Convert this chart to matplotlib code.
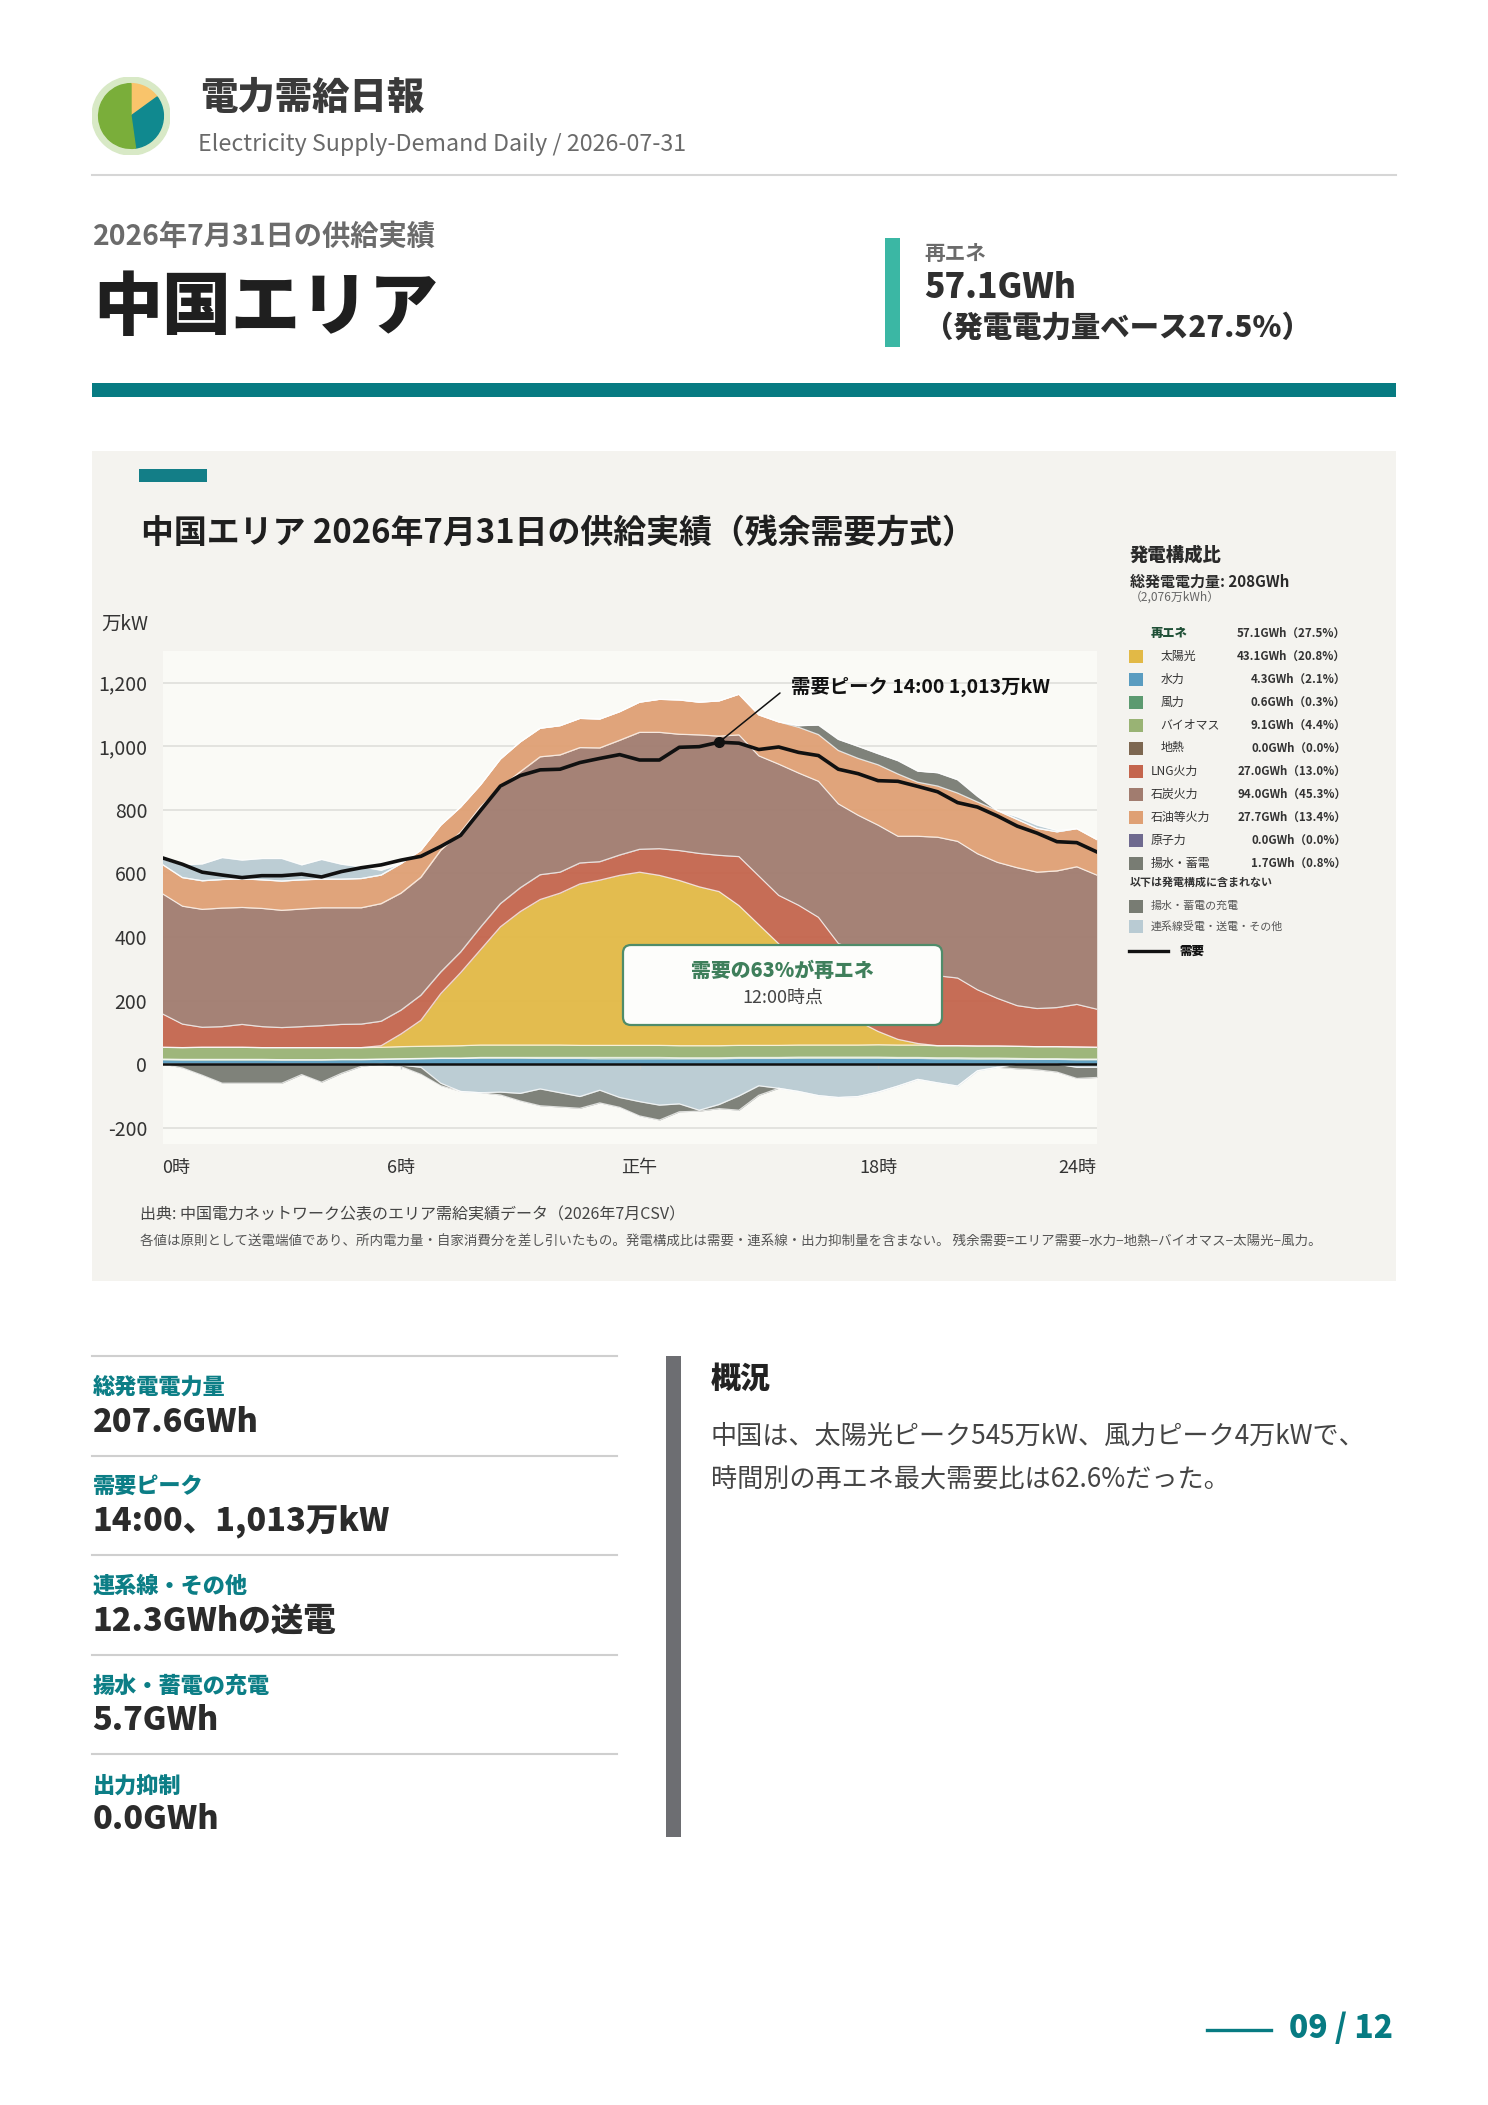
import numpy as np
import matplotlib
matplotlib.use('Agg')
import matplotlib.pyplot as plt
from matplotlib.patches import Rectangle, FancyBboxPatch, Wedge, Circle
from matplotlib.ticker import FuncFormatter

plt.rcParams['font.family'] = ['Noto Sans CJK JP', 'DejaVu Sans']

W, H = 1488, 2105

# ---------------- data (万kW, 30-minute slots) ----------------
times = [f"{h:02d}:{m:02d}" for h in range(24) for m in (0, 30)]

demand = [649, 629, 604, 595, 587, 593, 593, 598, 589, 606, 618, 627,
          642, 654, 685, 720, 798, 875, 908, 926, 928, 949, 962, 974,
          957, 957, 997, 999, 1013, 1010, 990, 998, 981, 971, 928, 914,
          892, 890, 874, 857, 823, 809, 781, 749, 727, 700, 697, 668]
hydro = [14, 13, 13, 13, 13, 13, 13, 13, 13, 14, 14, 15,
         16, 17, 18, 18, 19, 19, 19, 18, 18, 18, 17, 17,
         17, 17, 17, 17, 17, 18, 18, 18, 19, 19, 19, 19,
         19, 18, 18, 17, 17, 16, 16, 15, 15, 15, 14, 14]
wind = [2, 2, 2, 2, 2, 2, 1, 1, 1, 1, 1, 1,
        1, 1, 1, 1, 2, 2, 2, 3, 3, 3, 4, 4,
        4, 4, 3, 3, 3, 3, 3, 3, 3, 3, 3, 3,
        3, 3, 3, 3, 3, 3, 3, 3, 2, 2, 2, 2]
biomass = [37, 37, 38, 38, 38, 37, 38, 38, 38, 37, 37, 37,
           38, 38, 38, 39, 39, 39, 39, 39, 39, 38, 38, 38,
           38, 38, 38, 38, 38, 38, 38, 38, 38, 38, 38, 38,
           39, 39, 39, 38, 38, 38, 38, 38, 38, 38, 38, 37]
geothermal = [0] * 48
solar = [0, 0, 0, 0, 0, 0, 0, 0, 0, 0, 0, 5,
         40, 82, 165, 230, 300, 372, 420, 458, 478, 508, 520, 535,
         545, 535, 520, 500, 485, 440, 380, 320, 255, 185, 120, 75,
         42, 18, 5, 0, 0, 0, 0, 0, 0, 0, 0, 0]
lng = [105, 74, 63, 65, 72, 66, 63, 66, 69, 73, 74, 77,
       75, 79, 68, 65, 71, 73, 75, 78, 66, 66, 58, 64,
       72, 84, 94, 105, 114, 154, 153, 152, 185, 217, 200, 220,
       221, 222, 221, 220, 213, 177, 150, 128, 120, 123, 134, 120]
coal = [378, 371, 371, 373, 368, 372, 369, 370, 371, 367, 366, 370,
        368, 371, 383, 377, 379, 366, 365, 371, 369, 363, 358, 361,
        368, 366, 366, 373, 375, 383, 378, 413, 416, 428, 439, 428,
        428, 417, 431, 436, 430, 428, 428, 434, 429, 430, 433, 422]
oil = [92, 90, 90, 90, 90, 90, 92, 92, 90, 90, 92, 90,
       93, 85, 79, 79, 69, 89, 94, 90, 92, 92, 91, 90,
       95, 104, 108, 103, 111, 128, 129, 133, 144, 147, 168, 179,
       190, 196, 170, 161, 152, 163, 163, 152, 138, 123, 120, 112]
nuclear = [0] * 48
pumped_gen = [0, 0, 0, 0, 0, 0, 0, 0, 0, 0, 0, 0,
              0, 0, 0, 0, 0, 0, 0, 0, 0, 0, 0, 0,
              0, 0, 0, 0, 0, 0, 0, 0, 5, 30, 35, 38,
              35, 42, 35, 42, 42, 18, 0, 0, 0, 0, 0, 0]
interconnect = [17, 40, 53, 69, 59, 67, 71, 47, 62, 47, 37, 15,
                -3, -10, -60, -86, -90, -88, -92, -78, -90, -102, -82, -105,
                -118, -129, -125, -145, -127, -100, -68, -76, -86, -99, -105, -102,
                -88, -69, -48, -59, -69, -21, -10, 8, 10, 4, -10, -10]
pumped_charge = [0, -12, -35, -60, -60, -60, -60, -33, -57, -29, -7, 0,
                 -5, -22, -8, 0, 0, -9, -24, -53, -45, -37, -40, -31,
                 -45, -47, -25, -3, -13, -45, -30, 0, 0, 0, 0, 0,
                 0, 0, 0, 0, 0, 0, 0, -15, -18, -25, -35, -32]

xtick_pos = [0, 6, 12, 18, 23.5]
xtick_labels = ['0時', '6時', '正午', '18時', '24時']

legend_names = ['太陽光', '水力', '風力', 'バイオマス', '地熱',
                'LNG火力', '石炭火力', '石油等火力', '原子力', '揚水・蓄電']
legend_values = ['43.1GWh（20.8%）', '4.3GWh（2.1%）', '0.6GWh（0.3%）',
                 '9.1GWh（4.4%）', '0.0GWh（0.0%）', '27.0GWh（13.0%）',
                 '94.0GWh（45.3%）', '27.7GWh（13.4%）', '0.0GWh（0.0%）',
                 '1.7GWh（0.8%）']
renew_total = '57.1GWh（27.5%）'

stat_labels = ['総発電電力量', '需要ピーク', '連系線・その他', '揚水・蓄電の充電', '出力抑制']
stat_values = ['207.6GWh', '14:00、1,013万kW', '12.3GWhの送電', '5.7GWh', '0.0GWh']

summary_lines = ['中国は、太陽光ピーク545万kW、風力ピーク4万kWで、',
                 '時間別の再エネ最大需要比は62.6%だった。']

# ---------------- colours ----------------
C = {
    'solar': '#e2b946', 'hydro': '#5a9cc0', 'wind': '#5c9a70', 'bio': '#99b374',
    'geo': '#7d6751', 'lng': '#c4654d', 'coal': '#a17c6f', 'oil': '#dfa074',
    'nuc': '#6f6a8f', 'pump': '#787c73', 'tie': '#b9cbd3',
}
TEAL = '#077b82'
HEAVY = 900

fig = plt.figure(figsize=(W / 100, H / 100), dpi=100)
fig.patch.set_facecolor('white')

ov = fig.add_axes([0, 0, 1, 1], zorder=1)
ov.set_xlim(0, W); ov.set_ylim(H, 0); ov.axis('off')
ov2 = fig.add_axes([0, 0, 1, 1], zorder=3)
ov2.set_xlim(0, W); ov2.set_ylim(H, 0); ov2.axis('off')
ov2.patch.set_alpha(0)

fits = []


def T(axx, x, y, s, target=None, size=12, **kw):
    kw.setdefault('va', 'center')
    t = axx.text(x, y, s, fontsize=size, **kw)
    if target:
        fits.append((t, target))
    return t


# ---------------- header ----------------
axl = fig.add_axes([92 / W, 1 - 155 / H, 78 / W, 78 / H], zorder=2)
axl.set_xlim(-1, 1); axl.set_ylim(-1, 1); axl.axis('off')
axl.add_patch(Circle((0, 0), 1.0, color='#d8e9c6'))
axl.add_patch(Wedge((0, 0), 0.83, 36, 90, color='#f9c46b'))
axl.add_patch(Wedge((0, 0), 0.83, -82, 36, color='#10898f'))
axl.add_patch(Wedge((0, 0), 0.83, 90, 278, color='#7aae3a'))

T(ov, 200, 98, '電力需給日報', 224, 26, fontweight=HEAVY, color='#3a3a3a')
T(ov, 198, 145, 'Electricity Supply-Demand Daily / 2026-07-31', 488, 16, color='#6a6a6a')
ov.plot([92, 1396], [175, 175], color='#d6d6d6', lw=1.5)

T(ov, 93, 237, '2026年7月31日の供給実績', 343, 17, fontweight='bold', color='#6b6b6b')
T(ov, 93, 308, '中国エリア', 345, 48, fontweight=HEAVY, color='#1f1f1f')
ov.add_patch(Rectangle((92, 383), 1304, 14, color=TEAL, lw=0))

ov.add_patch(Rectangle((885, 238), 15, 109, color='#3bb7a4', lw=0))
T(ov, 924, 254, '再エネ', 62, 14, fontweight='bold', color='#6b6b6b')
T(ov, 924, 288, '57.1GWh', 152, 24, fontweight=HEAVY, color='#2f2f2f')
T(ov, 924, 328, '（発電電力量ベース27.5%）', 387, 19, fontweight=HEAVY, color='#2f2f2f')

# ---------------- chart panel ----------------
ov.add_patch(Rectangle((92, 451), 1304, 830, color='#f4f3ef', lw=0))
ov.add_patch(Rectangle((139, 469), 68, 13, color='#137e87', lw=0))
T(ov, 141, 533, '中国エリア 2026年7月31日の供給実績（残余需要方式）', 835, 22,
  fontweight='bold', color='#1f1f1f')
T(ov, 101.5, 624, '万kW', 47, 14, color='#333333')

ax = fig.add_axes([162.5 / W, 1 - 1143.6 / H, (1096.7 - 162.5) / W, (1143.6 - 651) / H], zorder=2)
ax.set_facecolor('#fafaf6')
x = np.arange(len(times)) * 0.5

pos_layers = [(hydro, C['hydro']), (wind, C['wind']), (biomass, C['bio']),
              (geothermal, C['geo']), (solar, C['solar']), (lng, C['lng']),
              (coal, C['coal']), (oil, C['oil']), (nuclear, C['nuc']),
              (pumped_gen, C['pump']), (np.maximum(interconnect, 0), C['tie'])]
base = np.zeros(len(x))
for vals, col in pos_layers:
    top = base + np.asarray(vals, float)
    ax.fill_between(x, base, top, color=col, alpha=0.95, lw=0, zorder=2)
    base = top
base = np.zeros(len(x))
for vals, col in pos_layers:
    top = base + np.asarray(vals, float)
    if np.any(np.asarray(vals) > 0):
        ax.plot(x, top, color='white', lw=0.9, alpha=0.75, zorder=2.2)
    base = top

neg_layers = [(np.minimum(interconnect, 0), C['tie']), (pumped_charge, C['pump'])]
nb = np.zeros(len(x))
for vals, col in neg_layers:
    bot = nb + np.asarray(vals, float)
    ax.fill_between(x, bot, nb, color=col, alpha=0.95, lw=0, zorder=2)
    ax.plot(x, bot, color='white', lw=0.9, alpha=0.75, zorder=2.2)
    nb = bot

ax.vlines([6, 12, 18], -16, 0, color='#c9cdcd', lw=1, zorder=3)
ax.axhline(0, color='#111111', lw=1.8, zorder=4)
ax.plot(x, demand, color='#111111', lw=2.6, zorder=5, solid_joinstyle='round')

ipk = int(np.argmax(demand))
ax.plot(x[ipk], demand[ipk], 'o', color='#111111', ms=7, zorder=6)
ax.annotate('', xy=(x[ipk], demand[ipk]), xytext=(780, H - 693), textcoords='figure pixels',
            arrowprops=dict(arrowstyle='-', color='#111111', lw=1.1, shrinkA=0, shrinkB=0),
            zorder=6)
T(ov2, 790.7, 686.5, f"需要ピーク {times[ipk]} {demand[ipk]:,}万kW", 259, 14,
  fontweight='bold', color='#111111')

ax.set_xlim(0, 23.5)
ax.set_ylim(-250, 1300)
ax.set_yticks(range(-200, 1201, 200))
ax.yaxis.set_major_formatter(FuncFormatter(lambda v, p: f"{int(v):,}"))
ax.grid(axis='y', color='#dcdcd8', lw=1.1, zorder=0)
ax.set_axisbelow(True)
for s in ax.spines.values():
    s.set_visible(False)
ax.set_xticks(xtick_pos)
ax.set_xticklabels(xtick_labels)
ax.tick_params(axis='y', length=0, pad=11, labelsize=14, labelcolor='#333333')
ax.tick_params(axis='x', length=0, pad=11, labelsize=13, labelcolor='#333333')
xl = ax.get_xticklabels()
xl[0].set_ha('left')
xl[-1].set_ha('right')

# annotation box
ov2.add_patch(FancyBboxPatch((623, 945), 319, 80, boxstyle='round,pad=0,rounding_size=8',
                             fc='#fdfdfb', ec='#4f8c6a', lw=1.6))
T(ov2, 782.5, 970.6, '需要の63%が再エネ', 183, 14, ha='center', fontweight=HEAVY, color='#3f7f5b')
T(ov2, 782.5, 998, '12:00時点', 81, 12, ha='center', color='#444444')

# legend
T(ov, 1130, 555, '発電構成比', 92, 13, fontweight=HEAVY, color='#2a2a2a')
T(ov, 1130, 581.5, '総発電電力量: 208GWh', 160, 10.5, fontweight='bold', color='#2a2a2a')
T(ov, 1130, 597, '（2,076万kWh）', 90, 7.5, color='#666666')
T(ov, 1150.7, 633, '再エネ', 37, 9, fontweight=HEAVY, color='#1f4f36')
T(ov, 1346, 633, renew_total, None, 8.3, ha='right', fontweight='bold', color='#333333')
leg_cols = [C['solar'], C['hydro'], C['wind'], C['bio'], C['geo'],
            C['lng'], C['coal'], C['oil'], C['nuc'], C['pump']]
for i, (nm, val, col) in enumerate(zip(legend_names, legend_values, leg_cols)):
    yy = 656 + 23 * i
    ov.add_patch(Rectangle((1129.3, yy - 6.5), 13.4, 13, color=col, lw=0))
    xx = 1160.7 if i < 5 else 1150.7
    T(ov, xx, yy, nm, None, 8.6, color='#333333')
    T(ov, 1346, yy, val, None, 8.3, ha='right', fontweight='bold', color='#333333')
T(ov, 1130, 882, '以下は発電構成に含まれない', 143, 8, fontweight='bold', color='#333333')
ov.add_patch(Rectangle((1129.3, 906 - 6.5), 13.4, 13, color=C['pump'], lw=0))
T(ov, 1150.7, 906, '揚水・蓄電の充電', 88, 8, color='#555555')
ov.add_patch(Rectangle((1129.3, 926 - 6.5), 13.4, 13, color=C['tie'], lw=0))
T(ov, 1150.7, 926, '連系線受電・送電・その他', 132, 8, color='#555555')
ov.plot([1129, 1168], [951, 951], color='#111111', lw=2.4)
T(ov, 1179, 951, '需要', 25, 9, fontweight=HEAVY, color='#111111')

# notes
T(ov, 140, 1215, '出典: 中国電力ネットワーク公表のエリア需給実績データ（2026年7月CSV）', 545, 10,
  color='#444444')
T(ov, 140, 1242, '各値は原則として送電端値であり、所内電力量・自家消費分を差し引いたもの。'
  '発電構成比は需要・連系線・出力抑制量を含まない。 残余需要=エリア需要−水力−地熱−バイオマス−太陽光−風力。',
  1177, 8, color='#555555')

# ---------------- bottom stats ----------------
lab_texts, val_texts = [], []
for i, (lb, vl) in enumerate(zip(stat_labels, stat_values)):
    ly = 1356 + 99.5 * i
    ov.plot([92, 617], [ly, ly], color='#cfcfcf', lw=1.5)
    lab_texts.append(T(ov, 92.5, 1387 + 99.7 * i, lb, None, 16, fontweight=HEAVY, color='#0c7e86'))
    val_texts.append(T(ov, 92.5, 1422 + 99.3 * i, vl, None, 24, fontweight=HEAVY, color='#2b2b2b'))
fits.append((lab_texts[0], 133))
fits.append((val_texts[0], 166))

ov.add_patch(Rectangle((666, 1356), 15, 481, color='#6d6e72', lw=0))
T(ov, 710.7, 1378, '概況', 60, 21, fontweight=HEAVY, color='#222222')
p1 = T(ov, 710.7, 1436.7, summary_lines[0], None, 18, color='#444444')
p2 = T(ov, 710.7, 1480, summary_lines[1], None, 18, color='#444444')
fits.append((p1, 655))

# page number
ov.plot([1207, 1271], [2030, 2030], color=TEAL, lw=2.4)
T(ov, 1289, 2028, '09 / 12', 104, 17, fontweight=HEAVY, color=TEAL)

# ---------------- fit text widths ----------------
fig.canvas.draw()
r = fig.canvas.get_renderer()
for _ in range(2):
    for t, target in fits:
        w = t.get_window_extent(r).width
        if w > 0:
            t.set_fontsize(t.get_fontsize() * target / w)
    fig.canvas.draw()
for t in lab_texts[1:]:
    t.set_fontsize(lab_texts[0].get_fontsize())
for t in val_texts[1:]:
    t.set_fontsize(val_texts[0].get_fontsize())
p2.set_fontsize(p1.get_fontsize())

fig.savefig('out.png', dpi=100, facecolor='white')
